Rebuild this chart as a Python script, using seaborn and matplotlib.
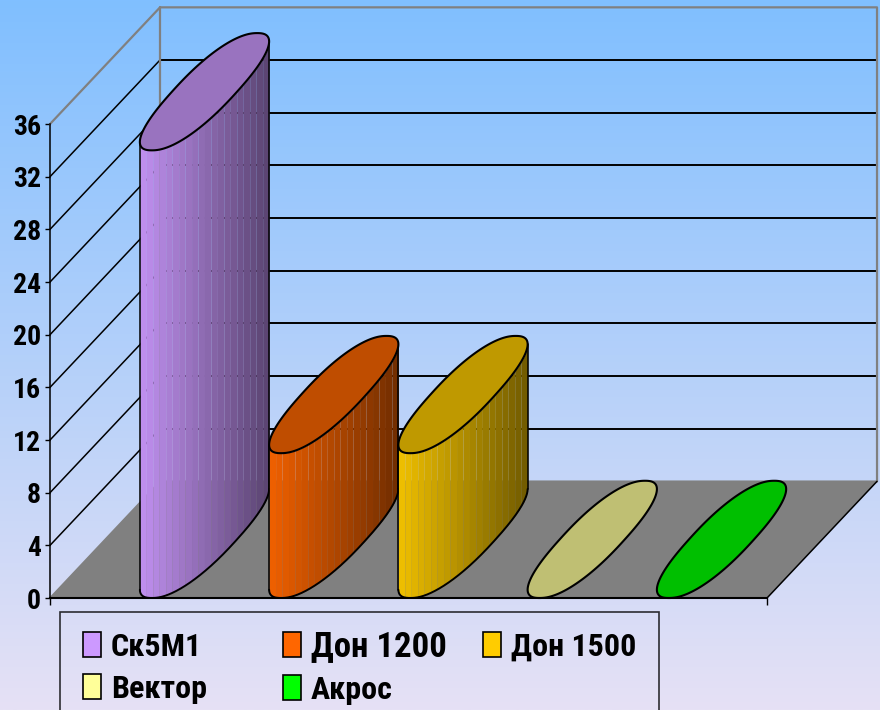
import numpy as np
import matplotlib
matplotlib.use("Agg")
import matplotlib.pyplot as plt
import seaborn as sns
from matplotlib.offsetbox import DrawingArea
from matplotlib.patches import Patch, Polygon
from matplotlib.colors import to_rgb

# values
categories = ["Ск5М1", "Дон 1200", "Дон 1500", "Вектор", "Акрос"]
values = [34, 11, 11, 0, 0]
bar_colors = ["#CC99FF", "#FF6600", "#FFCC00", "#FFFF99", "#00FF00"]
y_ticks = list(range(0, 37, 4))
legend_sizes = [23, 25, 23, 23, 23]

# oblique 3d box, in data units
depth_x = 0.851
depth_y = 8.86
floor_left = -1.195
floor_right = 4.352
y_top = 36

sns.set_style("ticks")
plt.rcParams['font.family'] = ['Roboto Condensed', 'Liberation Sans', 'DejaVu Sans']
plt.rcParams['font.weight'] = 'bold'

fig = plt.figure(figsize=(8.8, 7.1), dpi=100)
ax = fig.add_axes([0, 0, 1, 1])
ax.patch.set_visible(False)

# background gradient
top = np.array(to_rgb("#80BFFF"))
bottom = np.array(to_rgb("#E6E1F5"))
grad = np.linspace(0, 1, 256)[:, None, None] * (bottom - top)[None, None, :] + top
ax.imshow(grad, extent=[0, 1, 0, 1], transform=ax.transAxes, aspect='auto', zorder=0)

# bars come from seaborn, the cylinder is then drawn on their geometry
sns.barplot(x=categories, y=values, width=1.0, ax=ax, color="white")
bars = list(ax.patches)

ax.set_xlim(-1.582, 5.226)
ax.set_ylim(-8.506, 45.418)

# floor and walls
floor = Polygon([(floor_left, 0), (floor_right, 0),
                 (floor_right + depth_x, depth_y), (floor_left + depth_x, depth_y)],
                facecolor="#808080", edgecolor="none", zorder=1)
ax.add_patch(floor)
for v in y_ticks[1:-1]:
    ax.plot([floor_left, floor_left + depth_x], [v, v + depth_y], color="black", lw=1.1, zorder=1.5)
    ax.plot([floor_left + depth_x, floor_right + depth_x], [v + depth_y, v + depth_y],
            color="black", lw=1.4, zorder=1.5)

gray = "#808080"
wall_x = floor_left + depth_x
wall_r = floor_right + depth_x
ax.plot([floor_left, wall_x, wall_r, wall_r], [y_top, y_top + depth_y, y_top + depth_y, depth_y],
        color=gray, lw=1.6, zorder=1.6)
ax.plot([wall_x, wall_x], [depth_y, y_top + depth_y], color=gray, lw=1.6, zorder=1.6)
ax.plot([floor_left, wall_x, wall_r], [0, depth_y, depth_y], color=gray, lw=1.3, zorder=1.6)
ax.plot([floor_right, wall_r], [0, depth_y], color="black", lw=1.1, zorder=1.6)

# cylinders
n_strips = 20
power = 0.86  # the caps are a bit fatter than a true ellipse
for i, (bar, col) in enumerate(zip(bars, bar_colors)):
    bar.set_visible(False)
    h = bar.get_height()
    R = bar.get_width() / 2
    cx = bar.get_x() + R
    b = depth_x / 2
    a = np.sqrt(R ** 2 - b ** 2)
    c = depth_y / 2 * 1.005
    rgb = np.array(to_rgb(col))
    z = 3 + i

    t = np.linspace(0, 2 * np.pi, 721)[:-1]
    u = np.sign(np.cos(t)) * np.abs(np.cos(t)) ** power
    w = np.sign(np.sin(t)) * np.abs(np.sin(t)) ** power
    ox = a * u + b * w
    ox = ox * R / ox.max()
    oy = c + c * w

    # lower edge of the cap, from its left end round to its right end
    start = ox.argmin()
    ox_roll = np.roll(ox, -start)
    oy_roll = np.roll(oy, -start)
    stop = ox_roll.argmax()
    arc_x = cx + ox_roll[:stop + 1]
    arc_y = oy_roll[:stop + 1]

    if h > 0:
        edges = np.linspace(cx - R, cx + R, n_strips + 1)
        for j in range(n_strips):
            xs = np.linspace(edges[j], edges[j + 1], 8)
            ys = np.interp(xs, arc_x, arc_y)
            shade = 0.93 - 0.48 * j / (n_strips - 1)
            ax.fill_between(xs, ys, ys + h, color=rgb * shade, lw=0, zorder=z)
        ax.plot(arc_x, arc_y, color="black", lw=1.4, zorder=z + 0.2)
        ax.plot([arc_x[0], arc_x[0]], [arc_y[0], arc_y[0] + h], color="black", lw=1.1, zorder=z + 0.2)
        ax.plot([arc_x[-1], arc_x[-1]], [arc_y[-1], arc_y[-1] + h], color="black", lw=1.1, zorder=z + 0.2)

    ax.fill(cx + ox, h + oy, facecolor=rgb * 0.75, edgecolor="black", lw=1.5, zorder=z + 0.5)

# axes
ax.set_xlabel("")
ax.set_ylabel("")
ax.set_xticks([floor_left, floor_right], ["", ""])
ax.set_yticks(y_ticks)
ax.tick_params(axis='y', length=3.5, width=1, color="black", pad=3, labelsize=20, labelcolor="black")
ax.tick_params(axis='x', length=5, width=1, color="black")
for s in ["top", "right"]:
    ax.spines[s].set_visible(False)
ax.spines["left"].set_position(("data", floor_left))
ax.spines["left"].set_bounds(0, y_top)
ax.spines["left"].set_linewidth(1.1)
ax.spines["left"].set_color("black")
ax.spines["bottom"].set_position(("data", 0))
ax.spines["bottom"].set_bounds(floor_left, floor_right)
ax.spines["bottom"].set_linewidth(1.5)
ax.spines["bottom"].set_color("black")
ax.spines["left"].set_zorder(2.5)
ax.spines["bottom"].set_zorder(20)

# legend fills by column, so order the handles for the 3x2 layout
order = [0, 3, 1, 4, 2]
handles = [Patch(facecolor=bar_colors[k], edgecolor="black", lw=1.2) for k in order]
leg = ax.legend(handles, [categories[k] for k in order], ncol=3, loc='upper left',
                bbox_to_anchor=(60 / 880, 1 - 612 / 710), bbox_transform=fig.transFigure,
                borderaxespad=0, fontsize=23, frameon=True, fancybox=False,
                facecolor="none", edgecolor="black", framealpha=None,
                borderpad=0.55, labelspacing=0.38, handlelength=0.56, handleheight=0.81,
                handletextpad=0.31, columnspacing=0)
leg.get_frame().set_linewidth(1.2)
leg.set_zorder(30)
for txt, k in zip(leg.get_texts(), order):
    txt.set_fontsize(legend_sizes[k])
    txt.set_color("black")

# the three columns start 200 px apart, whatever their text is
handle_box = leg._legend_handle_box
for col_box, width_px in zip(handle_box.get_children(), [200, 200, 158]):
    col_box.align = "left"
    col_box.width = width_px
# swatches sit further from the left edge of the frame than the top edge
handle_box._children.insert(0, DrawingArea(4.0, 1))

fig.savefig("out.png", dpi=100)
